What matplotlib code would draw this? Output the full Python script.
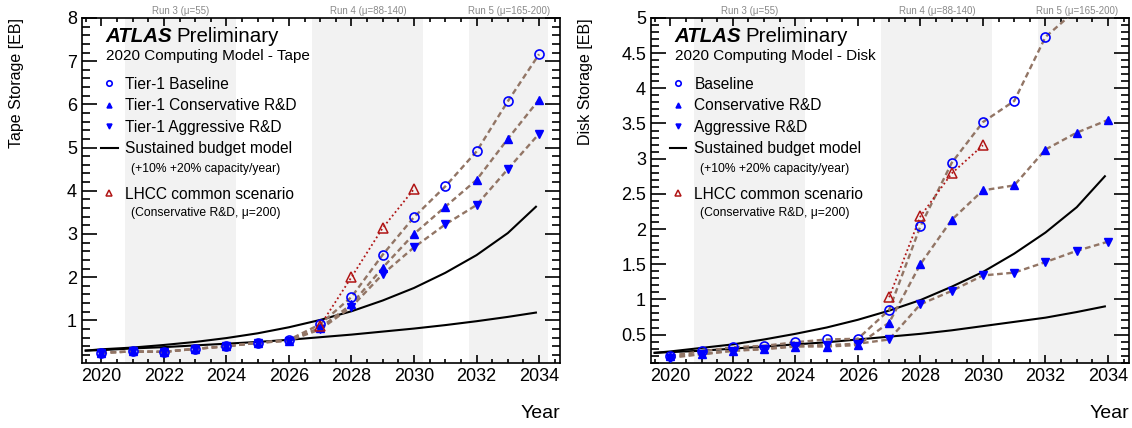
import matplotlib.pyplot as plt
from matplotlib.ticker import MultipleLocator
from matplotlib.lines import Line2D

plt.rcParams['font.family'] = ['Liberation Sans', 'DejaVu Sans']

# Years
years = [2020, 2021, 2022, 2023, 2024, 2025, 2026, 2027, 2028, 2029, 2030, 2031, 2032, 2033, 2034]
budget_years = [2019.5, 2020, 2021, 2022, 2023, 2024, 2025, 2026, 2027, 2028, 2029, 2030, 2031, 2032, 2033, 2033.9]
lhcc_years = [2027, 2028, 2029, 2030]

# Tape storage [EB]
tape_baseline = [0.25, 0.28, 0.27, 0.34, 0.40, 0.48, 0.55, 0.91, 1.54, 2.52, 3.39, 4.10, 4.91, 6.07, 7.16]
tape_conservative = [0.25, 0.28, 0.27, 0.34, 0.40, 0.48, 0.53, 0.83, 1.37, 2.22, 3.00, 3.63, 4.25, 5.20, 6.11]
tape_aggressive = [0.25, 0.28, 0.27, 0.34, 0.40, 0.48, 0.53, 0.79, 1.31, 2.07, 2.69, 3.22, 3.67, 4.50, 5.32]
tape_lhcc = [0.88, 2.00, 3.14, 4.04]
tape_budget_10 = [0.30, 0.31, 0.35, 0.38, 0.42, 0.46, 0.50, 0.55, 0.61, 0.67, 0.74, 0.81, 0.89, 0.98, 1.08, 1.18]
tape_budget_20 = [0.30, 0.33, 0.37, 0.43, 0.50, 0.59, 0.70, 0.84, 1.01, 1.21, 1.46, 1.75, 2.10, 2.51, 3.02, 3.63]

# Disk storage [EB]
disk_baseline = [0.20, 0.26, 0.32, 0.34, 0.39, 0.43, 0.44, 0.85, 2.04, 2.94, 3.52, 3.82, 4.73, 5.12, 5.50]
disk_conservative = [0.19, 0.22, 0.27, 0.29, 0.33, 0.33, 0.35, 0.67, 1.50, 2.13, 2.55, 2.62, 3.13, 3.37, 3.55]
disk_aggressive = [0.17, 0.22, 0.27, 0.30, 0.34, 0.35, 0.37, 0.43, 0.93, 1.12, 1.34, 1.38, 1.53, 1.69, 1.82]
disk_lhcc = [1.03, 2.18, 2.79, 3.19]
disk_budget_10 = [0.24, 0.25, 0.27, 0.30, 0.33, 0.36, 0.39, 0.43, 0.47, 0.51, 0.56, 0.62, 0.68, 0.74, 0.82, 0.90]
disk_budget_20 = [0.24, 0.26, 0.31, 0.36, 0.43, 0.51, 0.60, 0.71, 0.84, 0.99, 1.18, 1.39, 1.65, 1.95, 2.31, 2.75]

# LHC runs
runs = ['Run 3 (\u03bc=55)', 'Run 4 (\u03bc=88-140)', 'Run 5 (\u03bc=165-200)']
run_spans = [(2020.75, 2024.3), (2026.75, 2030.3), (2031.75, 2034.3)]

brown = '#927565'
blue = '#0000ff'
red = '#b01515'


def draw_panel(ax, base, cons, aggr, lhcc, b10, b20, ylim, major, minor,
               ylabel, subtitle, labels):
    for (x0, x1), name in zip(run_spans, runs):
        ax.axvspan(x0, x1, color='#f2f2f2', zorder=0, lw=0)
        ax.text((x0 + x1) / 2, 1.006, name, transform=ax.get_xaxis_transform(),
                ha='center', va='bottom', fontsize=7, color='#8a8a8a')

    ax.plot(budget_years, b10, color='black', lw=1.5, zorder=2)
    ax.plot(budget_years, b20, color='black', lw=1.5, zorder=2)

    for vals in (base, cons, aggr):
        ax.plot(years, vals, color=brown, lw=1.7, ls=(0, (2.4, 1.5)), zorder=3)
    ax.plot(lhcc_years, lhcc, color=red, lw=1.3, ls=(0, (1, 1.5)), zorder=3)

    h1, = ax.plot(years, base, ls='none', marker='o', ms=6.5, mfc='none',
                  mec=blue, mew=1.2, zorder=4)
    h2, = ax.plot(years, cons, ls='none', marker='^', ms=6, color=blue, zorder=4)
    h3, = ax.plot(years, aggr, ls='none', marker='v', ms=6, color=blue, zorder=4)
    h5, = ax.plot(lhcc_years, lhcc, ls='none', marker='^', ms=6.5, mfc='none',
                  mec=red, mew=1.1, zorder=5)
    h4 = Line2D([], [], color='black', lw=1.5)

    ax.set_xlim(2019.38, 2034.67)
    ax.set_ylim(*ylim)
    ax.xaxis.set_major_locator(MultipleLocator(2))
    ax.xaxis.set_minor_locator(MultipleLocator(0.5))
    ax.yaxis.set_major_locator(MultipleLocator(major))
    ax.yaxis.set_minor_locator(MultipleLocator(minor))
    ax.tick_params(which='both', direction='in', top=True, right=True, labelsize=13, width=1.2)
    ax.tick_params(axis='y', which='major', length=11)
    ax.tick_params(axis='y', which='minor', length=5.5)
    ax.tick_params(axis='x', which='major', length=6, pad=4)
    ax.tick_params(axis='x', which='minor', length=3)
    for s in ax.spines.values():
        s.set_linewidth(1.2)
    ax.yaxis.set_major_formatter(plt.FuncFormatter(lambda v, p: '%g' % v))

    ax.set_ylabel(ylabel, fontsize=11.5, loc='top')
    ax.yaxis.set_label_coords(-0.122, 1.0)
    ax.set_xlabel('Year', fontsize=14, loc='right', labelpad=14)

    ax.text(0.05, 0.947, 'ATLAS', transform=ax.transAxes, fontsize=14.8,
            fontweight='bold', fontstyle='italic', va='center')
    ax.text(0.197, 0.947, 'Preliminary', transform=ax.transAxes, fontsize=14.8, va='center')
    ax.text(0.05, 0.891, subtitle, transform=ax.transAxes, fontsize=11, va='center')

    opts = dict(loc='upper left', frameon=False, fontsize=11.2, markerscale=0.6,
                handlelength=1.09, handletextpad=0.51, borderpad=0, borderaxespad=0)
    leg = ax.legend([h1, h2, h3, h4], labels, bbox_to_anchor=(0.039, 0.829),
                    labelspacing=0.41, **opts)
    ax.add_artist(leg)
    ax.text(0.102, 0.561, '(+10% +20% capacity/year)', transform=ax.transAxes,
            fontsize=8.7, va='center')
    ax.legend([h5], ['LHCC common scenario'], bbox_to_anchor=(0.039, 0.511), **opts)
    ax.text(0.102, 0.434, '(Conservative R&D, \u03bc=200)', transform=ax.transAxes,
            fontsize=8.7, va='center')


fig = plt.figure(figsize=(11.32, 4.28), dpi=100)
ax1 = fig.add_axes([0.0724, 0.1526, 0.4223, 0.8054])
ax2 = fig.add_axes([0.575, 0.1526, 0.4223, 0.8054])

draw_panel(ax1, tape_baseline, tape_conservative, tape_aggressive, tape_lhcc,
           tape_budget_10, tape_budget_20, (0.02, 8), 1, 0.2,
           'Tape Storage [EB]', '2020 Computing Model - Tape',
           ['Tier-1 Baseline', 'Tier-1 Conservative R&D', 'Tier-1 Aggressive R&D',
            'Sustained budget model'])
draw_panel(ax2, disk_baseline, disk_conservative, disk_aggressive, disk_lhcc,
           disk_budget_10, disk_budget_20, (0.1, 5), 0.5, 0.1,
           'Disk Storage [EB]', '2020 Computing Model - Disk',
           ['Baseline', 'Conservative R&D', 'Aggressive R&D', 'Sustained budget model'])

fig.savefig('out.png', dpi=100)
